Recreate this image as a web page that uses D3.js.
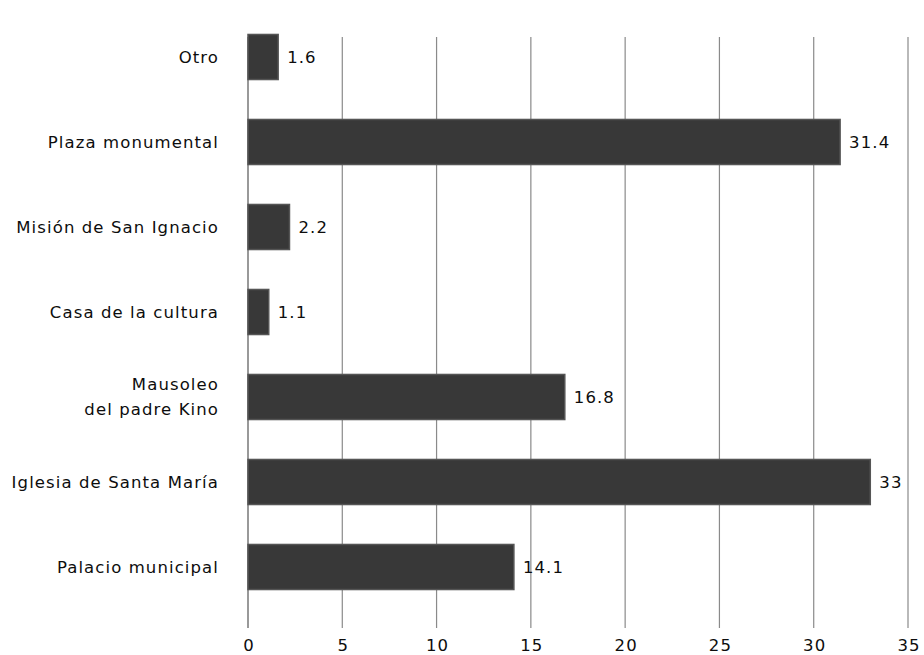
<!DOCTYPE html>
<html>
<head>
<meta charset="utf-8">
<script src="https://cdn.jsdelivr.net/npm/d3@7"></script>
<style>
  body { margin: 0; background: #fff; }
  text { font-family: "DejaVu Sans", "Open Sans", sans-serif; fill: #0d0d0d; letter-spacing: 1.1px; }
</style>
</head>
<body>
<svg id="chart" width="924" height="655"></svg>
<script>
// categories top to bottom
var categories = ["Otro", "Plaza monumental", "Misión de San Ignacio", "Casa de la cultura",
    "Mausoleo|del padre Kino", "Iglesia de Santa María", "Palacio municipal"];
var values = [1.6, 31.4, 2.2, 1.1, 16.8, 33, 14.1];
var valueLabels = ["1.6", "31.4", "2.2", "1.1", "16.8", "33", "14.1"];
var xTicks = [0, 5, 10, 15, 20, 25, 30, 35];

var svg = d3.select("#chart");
var plotLeft = 248, plotRight = 908, plotBottom = 628;
var fs = 16.5;

var x = d3.scaleLinear().domain([0, 35]).range([plotLeft, plotRight]);
var y = d3.scaleBand().domain(categories).range([14.5, 609.5]).paddingInner(0.47).paddingOuter(0.235);

// gridlines
svg.append("g").selectAll("line")
    .data(xTicks.slice(1))
    .enter().append("line")
    .attr("x1", function(d){ return x(d); })
    .attr("x2", function(d){ return x(d); })
    .attr("y1", 37).attr("y2", plotBottom)
    .attr("stroke", "#8a8a8a").attr("stroke-width", 1.2);

// zero line
svg.append("line")
    .attr("x1", x(0)).attr("x2", x(0))
    .attr("y1", 37).attr("y2", plotBottom)
    .attr("stroke", "#555").attr("stroke-width", 1.2);

// bars
svg.append("g").selectAll("rect")
    .data(categories)
    .enter().append("rect")
    .attr("x", x(0))
    .attr("y", function(d){ return y(d); })
    .attr("width", function(d, i){ return x(values[i]) - x(0); })
    .attr("height", y.bandwidth())
    .attr("fill", "#383838")
    .attr("stroke", "#555")
    .attr("stroke-width", 1.5);

// value labels
svg.append("g").selectAll("text")
    .data(categories)
    .enter().append("text")
    .attr("x", function(d, i){ return x(values[i]) + 9; })
    .attr("y", function(d){ return y(d) + y.bandwidth() / 2; })
    .attr("dy", "0.35em")
    .attr("font-size", fs)
    .text(function(d, i){ return valueLabels[i]; });

// category labels
var cat = svg.append("g").selectAll("text")
    .data(categories)
    .enter().append("text")
    .attr("text-anchor", "end")
    .attr("font-size", fs)
    .attr("x", 219)
    .attr("y", function(d){ return y(d) + y.bandwidth() / 2; });
cat.each(function(d){
    var lines = d.split("|");
    var t = d3.select(this);
    lines.forEach(function(l, j){
        t.append("tspan")
            .attr("x", 219)
            .attr("dy", j === 0 ? (0.35 - (lines.length - 1) * 0.75) + "em" : "1.5em")
            .text(l);
    });
});

// x axis labels
svg.append("g").selectAll("text")
    .data(xTicks)
    .enter().append("text")
    .attr("x", function(d){ return x(d) + 1; })
    .attr("y", 645)
    .attr("dy", "0.35em")
    .attr("text-anchor", "middle")
    .attr("font-size", fs)
    .text(function(d){ return d; });
</script>
</body>
</html>
